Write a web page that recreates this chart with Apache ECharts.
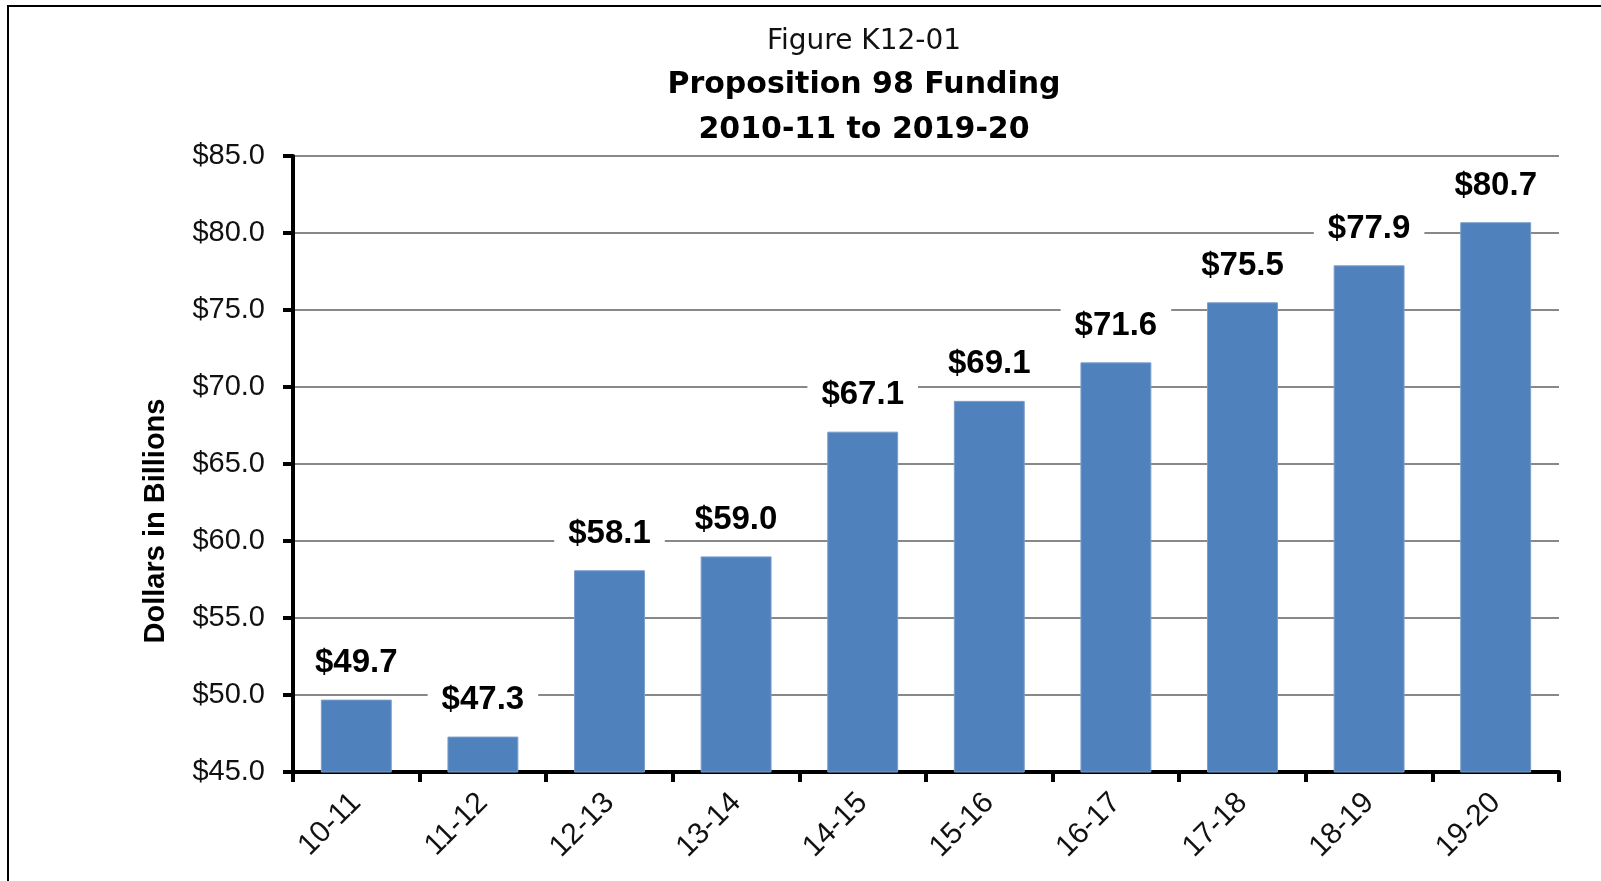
<!DOCTYPE html>
<html>
<head>
<meta charset="utf-8">
<title>Proposition 98 Funding</title>
<script src="https://cdn.jsdelivr.net/npm/echarts@6/dist/echarts.min.js"></script>
<style>
  html, body { margin: 0; padding: 0; background: #fff; }
  #chart { width: 1601px; height: 881px; }
</style>
</head>
<body>
<div id="chart"></div>
<script>
// data
const years = ['10-11', '11-12', '12-13', '13-14', '14-15', '15-16', '16-17', '17-18', '18-19', '19-20']
const funding = [49.7, 47.3, 58.1, 59.0, 67.1, 69.1, 71.6, 75.5, 77.9, 80.7]
const titleLines = ['Figure K12-01', 'Proposition 98 Funding', '2010-11 to 2019-20']
const yName = 'Dollars in Billions'

const chart = echarts.init(document.getElementById('chart'))

const fmt = v => '$' + Number(v).toFixed(1)

let option = {
  backgroundColor: '#fff',
  animation: false,
  title: [
    {
      text: titleLines[0],
      left: 859, top: 23, textAlign: 'center',
      textStyle: {fontFamily: 'DejaVu Sans', fontWeight: 'normal', fontSize: 28, color: '#111'}
    },
    {
      text: titleLines[1],
      left: 859, top: 65, textAlign: 'center',
      textStyle: {fontFamily: 'DejaVu Sans', fontWeight: 'bold', fontSize: 30, color: '#000'}
    },
    {
      text: titleLines[2],
      left: 859, top: 110, textAlign: 'center',
      textStyle: {fontFamily: 'DejaVu Sans', fontWeight: 'bold', fontSize: 30, color: '#000'}
    }
  ],
  grid: {
    left: 293,
    right: 42,
    top: 156,
    bottom: 109,
    containLabel: false
  },
  xAxis: {
    type: 'category',
    data: years,
    axisLine: {lineStyle: {color: '#000', width: 4}},
    axisTick: {show: true, length: 10, lineStyle: {color: '#000', width: 4}},
    axisLabel: {
      rotate: 45,
      margin: 26,
      fontFamily: 'Liberation Sans',
      fontSize: 30,
      color: '#111'
    }
  },
  yAxis: {
    type: 'value',
    min: 45,
    max: 85,
    interval: 5,
    axisLine: {show: true, lineStyle: {color: '#000', width: 4}},
    axisTick: {show: true, length: 10, lineStyle: {color: '#000', width: 4}},
    axisLabel: {
      margin: 28,
      formatter: fmt,
      fontFamily: 'Liberation Sans',
      fontSize: 29,
      color: '#111'
    },
    splitLine: {show: true, lineStyle: {color: '#888', width: 2}}
  },
  series: [
    {
      type: 'bar',
      data: funding,
      barCategoryGap: '44%',
      itemStyle: {color: '#4F81BD', borderColor: '#7A9DCB', borderWidth: 1},
      label: {
        show: true,
        position: 'top',
        distance: 18,
        formatter: p => fmt(p.value),
        fontFamily: 'Liberation Sans',
        fontWeight: 'bold',
        fontSize: 33,
        color: '#000',
        backgroundColor: '#fff',
        padding: [2, 14]
      }
    }
  ],
  graphic: [
    {
      type: 'polyline',
      shape: {points: [[8, 881], [8, 6], [1601, 6]]},
      style: {stroke: '#000', lineWidth: 2, fill: null},
      silent: true
    },
    {
      // y axis title sits lower than the axis middle in the original
      type: 'text',
      x: 156,
      y: 521,
      rotation: Math.PI / 2,
      style: {
        text: yName,
        font: 'bold 29px "Liberation Sans"',
        fill: '#000',
        align: 'center',
        verticalAlign: 'middle'
      },
      silent: true
    }
  ]
}
chart.setOption(option)
</script>
</body>
</html>
